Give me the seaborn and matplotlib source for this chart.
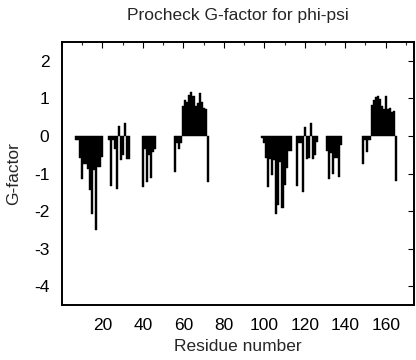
import matplotlib
matplotlib.use("Agg")
import matplotlib.pyplot as plt
import seaborn as sns
import pandas as pd
from matplotlib.ticker import MultipleLocator

residues = [7, 8, 9, 10, 11, 12, 13, 14, 15, 16, 17, 18, 19, 20,
            23, 24, 25, 26, 27, 28, 29, 30, 31, 32, 33,
            40, 41, 42, 43, 44, 45, 46,
            56, 57, 58, 59, 60, 61, 62, 63, 64, 65, 66, 67, 68, 69, 70, 71, 72,
            99, 100, 101, 102, 103, 104, 105, 106, 107, 108, 109, 110, 111, 112, 113,
            116, 117, 118, 119, 120, 121, 122, 123, 124, 125, 126,
            131, 132, 133, 134, 135, 136, 137, 138,
            149, 150, 151, 152, 153, 154, 155, 156, 157, 158, 159, 160, 161, 162, 163, 164, 165]
gfactor = [-0.10, -0.12, -0.60, -1.14, -0.75, -0.75, -0.87, -1.45, -2.07, -0.90, -2.51, -0.82, -0.82, -0.57,
           -0.10, -1.33, -0.10, -0.35, -1.40, 0.27, -0.65, -0.50, 0.34, -0.62, -0.62,
           -1.36, -0.35, -1.22, -0.50, -1.12, -0.42, -0.35,
           -0.95, -0.20, -0.35, -0.20, 0.80, 0.96, 0.90, 1.10, 1.16, 1.07, 0.80, 0.88, 1.13, 0.90, 0.75, 0.72, -1.22,
           -0.05, -0.20, -0.60, -1.36, -0.62, -1.05, -0.65, -2.07, -1.85, -0.70, -1.92, -1.30, -0.85, -0.40, -0.40,
           -1.32, -0.20, -0.20, -1.50, 0.23, -0.61, -0.58, 0.35, -0.62, -0.50, -0.15,
           -0.40, -1.14, -0.45, -1.00, -0.60, -0.60, -1.10, -0.25,
           -0.75, -0.10, -0.43, -0.10, 0.82, 0.96, 1.04, 1.07, 0.98, 0.80, 0.72, 1.07, 0.72, 0.75, 0.63, 0.67, -1.19]
y_ticks = [-4, -3, -2, -1, 0, 1, 2]
x_ticks = [20, 40, 60, 80, 100, 120, 140, 160]

df = pd.DataFrame({"Residue": residues, "G": gfactor})

sns.set_style("white")
plt.rcParams["font.family"] = ["Liberation Sans", "DejaVu Sans"]

fig = plt.figure(figsize=(4.16, 3.60), dpi=100)
ax = fig.add_axes([62 / 416, 1 - 305 / 360, (414 - 62) / 416, (305 - 42) / 360])

sns.barplot(data=df, x="Residue", y="G", native_scale=True, color="black",
            saturation=1, width=1.0, errorbar=None, linewidth=0.3,
            edgecolor="black", ax=ax)

ax.set_xlim(0, 174)
ax.set_ylim(-4.5, 2.5)
ax.set_xticks(x_ticks)
ax.set_xticklabels([str(t) for t in x_ticks])
ax.xaxis.set_minor_locator(MultipleLocator(10))
ax.set_yticks(y_ticks)
ax.set_yticklabels([str(t) for t in y_ticks])

ax.tick_params(axis="both", which="major", direction="in", length=4, width=0.8,
               top=True, right=True, labelsize=12.5, colors="black")
ax.tick_params(axis="x", which="major", pad=9)
ax.tick_params(axis="y", which="major", pad=9)
ax.tick_params(axis="both", which="minor", direction="in", length=2, width=0.8,
               top=True, right=True)
ax.tick_params(axis="y", which="minor", left=False, right=False)

for s in ax.spines.values():
    s.set_linewidth(1.4)
    s.set_color("black")

ax.set_xlabel("Residue number", fontsize=12.5, labelpad=5)
ax.set_ylabel("G-factor", fontsize=12.5, labelpad=9)
ax.set_title("Procheck G-factor for phi-psi", fontsize=12.5, pad=16)

fig.savefig("out.png", dpi=100)
